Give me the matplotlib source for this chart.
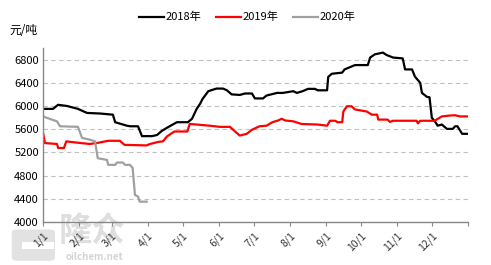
import numpy as np
import matplotlib
matplotlib.use("Agg")
import matplotlib.pyplot as plt
from matplotlib.patches import FancyBboxPatch, Rectangle

plt.rcParams['font.family'] = ['Noto Sans CJK SC', 'DejaVu Sans']

# day of year -> price (元/吨)
d2018 = [0, 8.6, 12.9, 20.6, 30, 37.8, 49, 60, 62, 72, 75, 81.6, 85, 93.6, 98, 102, 107,
         115, 124.5, 128, 132, 135, 137, 142, 149, 154.6, 158, 162, 169, 173.5, 179.5,
         182, 189, 192, 201, 206, 215, 218, 223, 227.6, 233.6, 236, 244, 245, 248, 257,
         259, 268, 279, 281, 285, 292, 295, 300.6, 309, 311, 317, 319.5, 324, 325.5, 330,
         332, 334, 336.6, 339, 342.6, 347, 352, 354, 356, 360, 365]
v2018 = [5950, 5950, 6020, 6000, 5950, 5880, 5870, 5850, 5720, 5660, 5650, 5650, 5480,
         5480, 5500, 5570, 5630, 5720, 5720, 5780, 5950, 6040, 6120, 6255, 6300, 6300,
         6270, 6200, 6190, 6215, 6215, 6130, 6130, 6180, 6225, 6225, 6255, 6225, 6255,
         6295, 6295, 6270, 6270, 6500, 6555, 6575, 6630, 6705, 6705, 6835, 6890, 6920,
         6880, 6835, 6820, 6630, 6630, 6505, 6400, 6225, 6155, 6150, 5795, 5735, 5660,
         5680, 5605, 5605, 5650, 5650, 5520, 5520]

d2019 = [0, 1.7, 12, 13, 18, 20, 26, 40, 46, 56, 66, 70, 89, 92, 99, 103, 106.5, 111, 113,
         124, 126, 135, 143, 152, 160.6, 165, 169, 175, 179.5, 186, 192, 197, 202, 205,
         208, 215, 222, 236, 244, 246.5, 251, 253, 257, 258, 261, 265, 268, 278, 282.5,
         287, 288, 296, 298, 300.6, 321, 322, 324, 336.6, 338, 342.6, 349.5, 354, 358, 365]
v2019 = [5535, 5360, 5345, 5275, 5275, 5390, 5375, 5345, 5360, 5400, 5400, 5330, 5320,
         5345, 5380, 5390, 5475, 5535, 5560, 5560, 5690, 5675, 5660, 5640, 5640, 5560,
         5490, 5520, 5590, 5650, 5660, 5720, 5750, 5780, 5750, 5735, 5690, 5680, 5660,
         5745, 5745, 5720, 5720, 5905, 5995, 5995, 5940, 5905, 5850, 5850, 5765, 5765,
         5725, 5745, 5745, 5700, 5745, 5745, 5765, 5820, 5835, 5840, 5820, 5820]

d2020 = [0, 3.4, 12, 14.6, 30, 33.5, 40, 44.7, 47, 55, 56, 62, 63.5, 68.7, 70.4, 74.7, 77,
         79, 81.6, 83, 89]
v2020 = [5820, 5795, 5735, 5650, 5640, 5450, 5420, 5390, 5100, 5070, 4985, 4985, 5025,
         5025, 4985, 4985, 4930, 4465, 4440, 4350, 4350]

month_days = [0, 31, 59, 90, 120, 151, 181, 212, 243, 273, 304, 334]
month_labels = ['1/1', '2/1', '3/1', '4/1', '5/1', '6/1', '7/1', '8/1', '9/1', '10/1',
                '11/1', '12/1']
yticks = [4000, 4400, 4800, 5200, 5600, 6000, 6400, 6800]

fig = plt.figure(figsize=(4.91, 2.65), dpi=100)

# watermark (behind everything)
fig.patches.append(FancyBboxPatch((0.028, 0.02), 0.08, 0.11,
                                  boxstyle='round,pad=0.004,rounding_size=0.012',
                                  transform=fig.transFigure, facecolor='#e2e2e2',
                                  edgecolor='none', zorder=-2))
fig.patches.append(Rectangle((0.045, 0.06), 0.065, 0.025, transform=fig.transFigure,
                             facecolor='white', edgecolor='none', zorder=-2))
fig.text(0.12, 0.125, '隆众', fontsize=24, color='#dedede', fontweight='bold',
         ha='left', va='center', zorder=-1)
fig.text(0.193, 0.03, 'oilchem.net', fontsize=7, color='#d4d4d4', fontweight='bold',
         ha='center', va='center', zorder=-1)

ax = fig.add_axes([0.0876, 0.1623, 0.8654, 0.6567])
ax.patch.set_alpha(0)

ax.plot(d2018, v2018, color='black', lw=1.6, label='2018年')
ax.plot(d2019, v2019, color='#ff0000', lw=1.6, label='2019年')
ax.plot(d2020, v2020, color='#a0a0a0', lw=1.6, label='2020年')

ax.set_xlim(0, 365)
ax.set_ylim(4000, 7000)
ax.set_yticks(yticks)
ax.set_xticks(month_days + [365])
ax.set_xticklabels(month_labels + [''], rotation=45, ha='right', rotation_mode='anchor',
                   fontsize=7.5, color='#333333')
ax.tick_params(axis='y', labelsize=8, length=0, pad=3)
ax.tick_params(axis='x', length=3, color='#888888', pad=3)
ax.grid(axis='y', linestyle=(0, (4, 3)), color='#c0c0c0', lw=0.8)
ax.set_axisbelow(True)
for s in ['top', 'right']:
    ax.spines[s].set_visible(False)
for s in ['left', 'bottom']:
    ax.spines[s].set_color('#888888')
    ax.spines[s].set_linewidth(1.0)

fig.text(0.02, 0.885, '元/吨', fontsize=8.5, ha='left', va='center')
fig.legend(loc='center', bbox_to_anchor=(0.503, 0.935), ncol=3, frameon=False,
           fontsize=8, handlelength=2.3, columnspacing=1.3, handletextpad=0.1)

fig.savefig('out.png', dpi=100)
